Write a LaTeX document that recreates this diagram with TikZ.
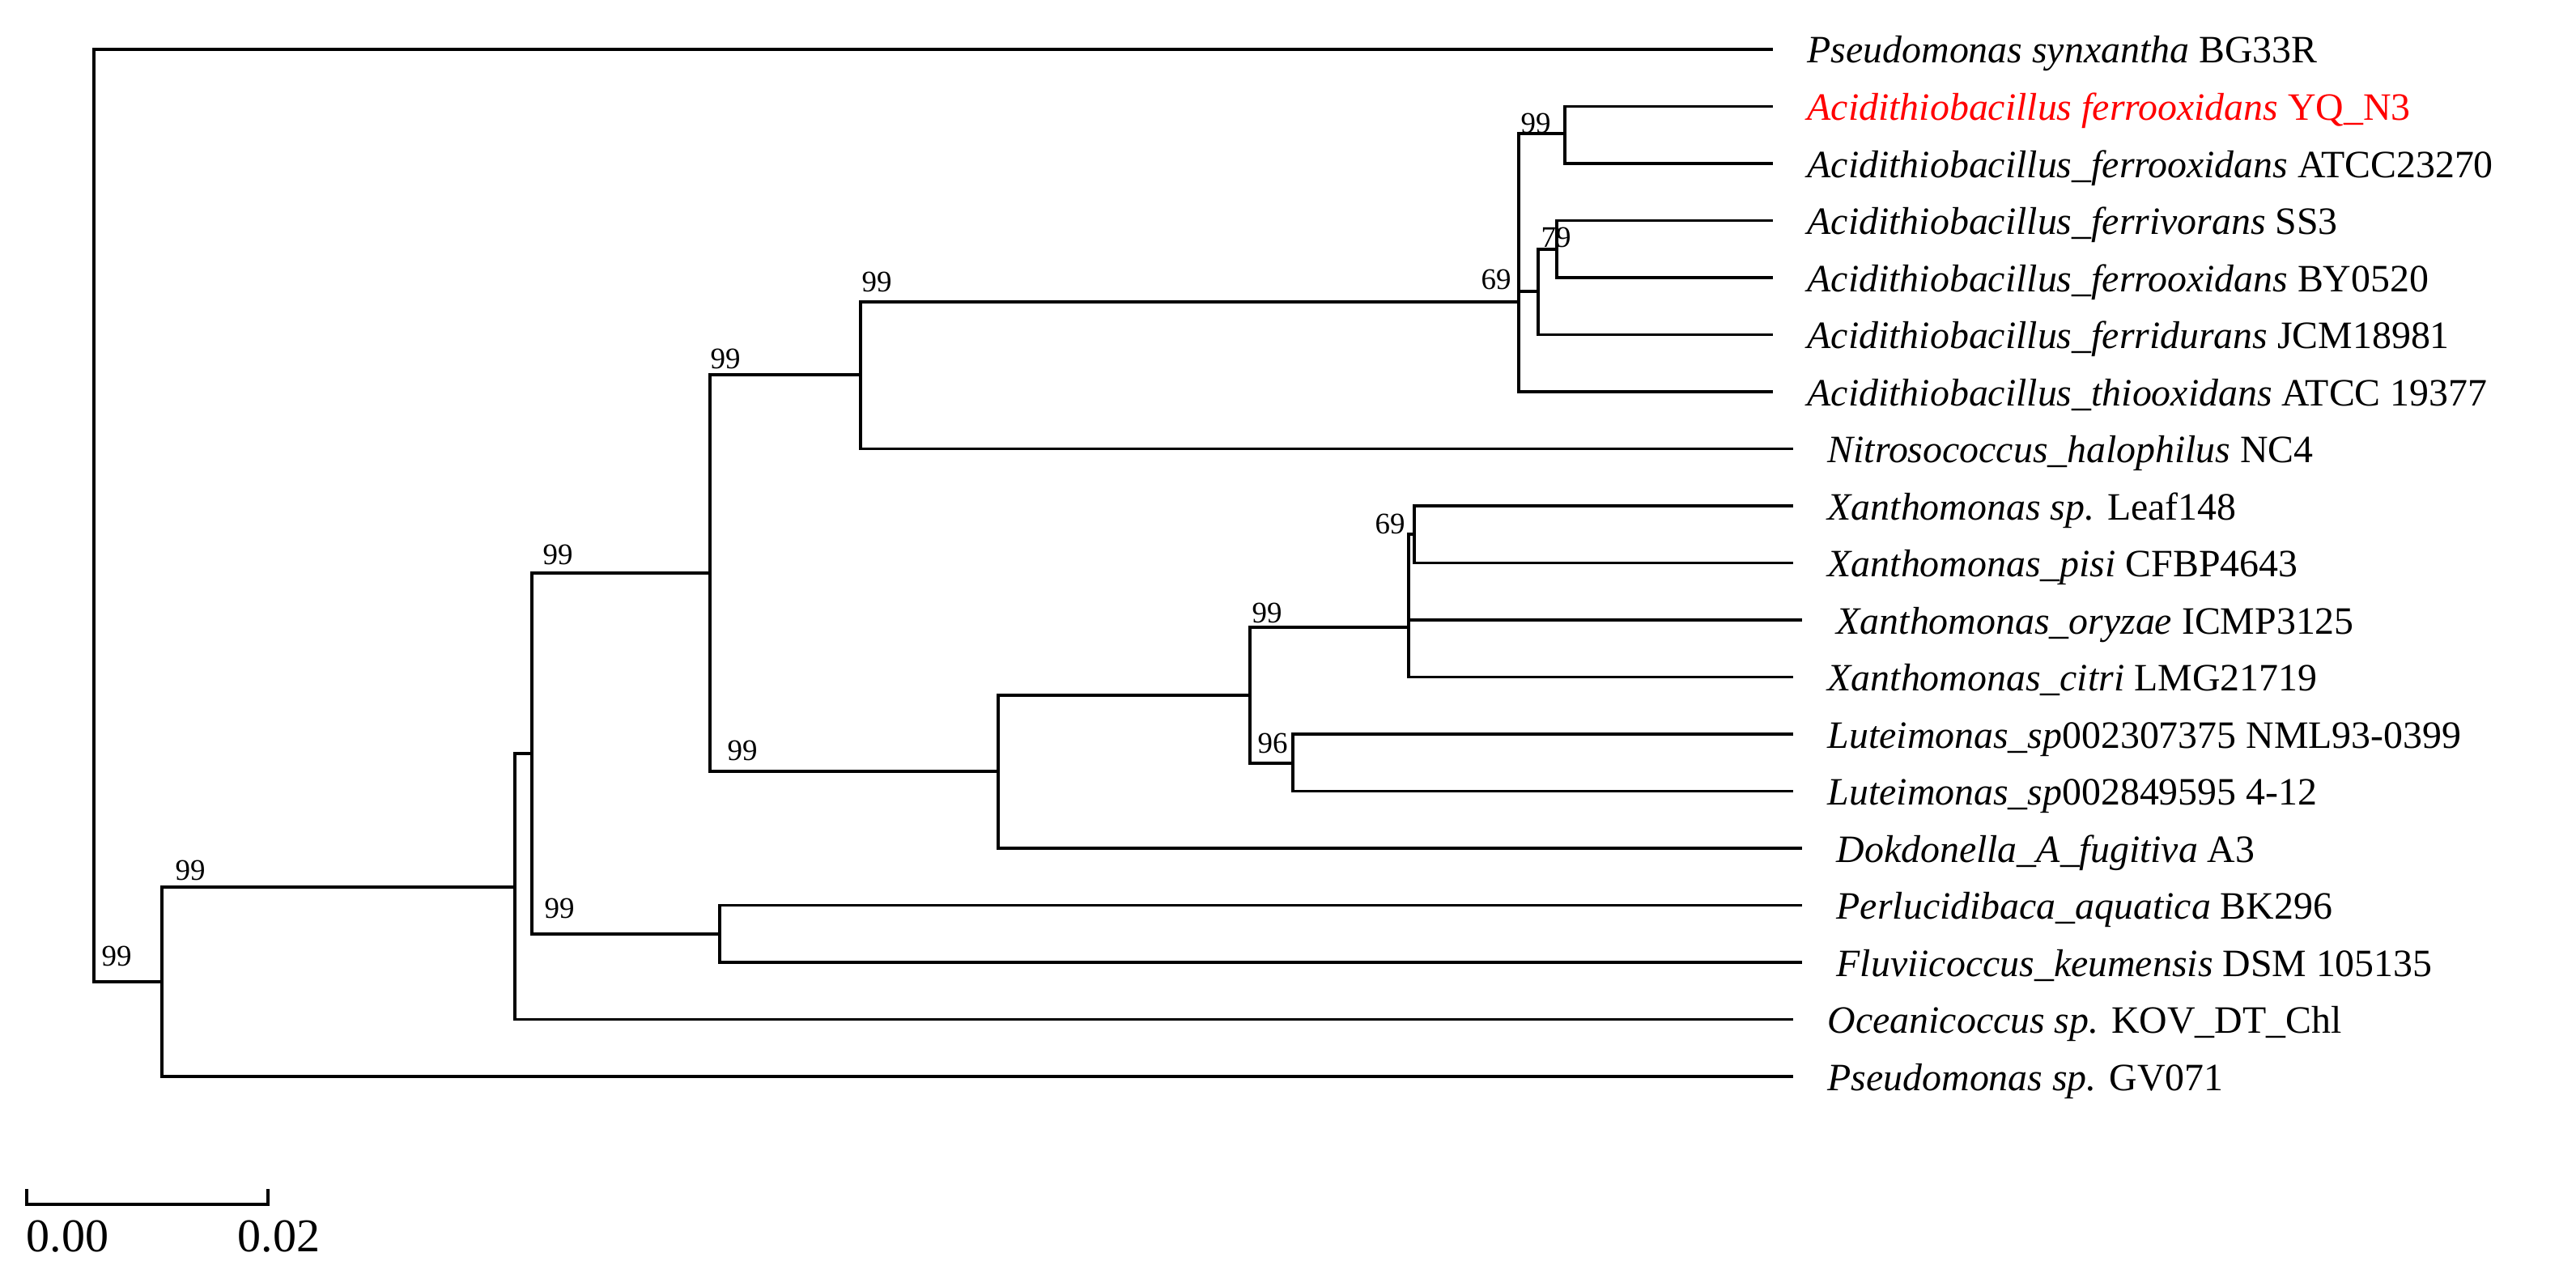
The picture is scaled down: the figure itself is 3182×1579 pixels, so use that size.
\documentclass[tikz,border=0pt]{standalone}
\usepackage{fontspec}
\setmainfont{Liberation Serif}
\usetikzlibrary{positioning}
\definecolor{yq_red}{rgb}{1.00,0.00,0.00}

\begin{document}
\begin{tikzpicture}[x=0.01cm,y=-0.01cm,
    branch/.style={line width=1pt,black},
    taxon/.style={anchor=base west,inner sep=0pt,font=\fontsize{13.6}{16}\selectfont},
    boot/.style={inner sep=0pt,font=\fontsize{10.5}{12}\selectfont},
    scalelabel/.style={anchor=west,inner sep=0pt,font=\fontsize{16.5}{19}\selectfont},
  ]
  \useasboundingbox (0,0) rectangle (3182,1579);
  % leaves: index / tip x / colour / name
  \foreach \i/\tx/\col/\name in {
    1/2190/black/{\textit{Pseudomonas synxantha} BG33R},
    2/2190/yq_red/{\textit{Acidithiobacillus ferrooxidans} YQ\_N3},
    3/2190/black/{\textit{Acidithiobacillus\_ferrooxidans} ATCC23270},
    4/2190/black/{\textit{Acidithiobacillus\_ferrivorans} SS3},
    5/2190/black/{\textit{Acidithiobacillus\_ferrooxidans} BY0520},
    6/2190/black/{\textit{Acidithiobacillus\_ferridurans} JCM18981},
    7/2190/black/{\textit{Acidithiobacillus\_thiooxidans} ATCC 19377},
    8/2215/black/{\textit{Nitrosococcus\_halophilus} NC4},
    9/2215/black/{\textit{Xanthomonas sp.} Leaf148},
    10/2215/black/{\textit{Xanthomonas\_pisi} CFBP4643},
    11/2226/black/{\textit{Xanthomonas\_oryzae} ICMP3125},
    12/2215/black/{\textit{Xanthomonas\_citri} LMG21719},
    13/2215/black/{\textit{Luteimonas\_sp}002307375 NML93-0399},
    14/2215/black/{\textit{Luteimonas\_sp}002849595 4-12},
    15/2226/black/{\textit{Dokdonella\_A\_fugitiva} A3},
    16/2226/black/{\textit{Perlucidibaca\_aquatica} BK296},
    17/2226/black/{\textit{Fluviicoccus\_keumensis} DSM 105135},
    18/2215/black/{\textit{Oceanicoccus sp.} KOV\_DT\_Chl},
    19/2215/black/{\textit{Pseudomonas sp.} GV071}}
  {
    \pgfmathsetmacro\ly{61+70.5*(\i-1)}
    \coordinate (l\i) at (\tx,\ly);
    \node[taxon,text=\col] (t\i) at (\tx+42,\ly+17) {\name};
  }
  % inner nodes of the tree
  \foreach \n/\nx/\ny in {R/116/637, A/200/1213, B/636/1096, C/657/931,
      D/877/708, E/1063/463, Ac/1876/373, YQ/1933/165, Fe/1900/360,
      N79/1923/308, F/1233/953, XL/1544/859, XG/1740/775, X69/1747/660,
      L96/1597/943, G/889/1154}
    \coordinate (\n) at (\nx,\ny);
  % branches
  \foreach \p/\c in {R/l1, R/A, A/B, A/l19, B/C, B/l18, C/D, C/G,
      D/E, D/F, E/Ac, E/l8, Ac/YQ, Ac/Fe, Ac/l7, YQ/l2, YQ/l3,
      Fe/N79, Fe/l6, N79/l4, N79/l5, F/XL, F/l15, XL/XG, XL/L96,
      XG/X69, XG/l11, XG/l12, X69/l9, X69/l10, L96/l13, L96/l14,
      G/l16, G/l17}
    \draw[branch] (\p) |- (\c);
  % bootstrap values
  \foreach \n/\bx/\by/\v in {A/144/1181/99, B/235/1075/99, D/689/685/99,
      G/691/1122/99, E/896/443/99, F/917/927/99, Ac/1083/348/99,
      Fe/1848/345/69, YQ/1897/152/99, N79/1922/293/79, XG/1565/757/99,
      X69/1717/647/69, L96/1572/918/96}
    \node[boot] (b\n) at (\bx,\by) {\v};
  % scale bar
  \coordinate (s0) at (33,1488);
  \coordinate (s1) at (331,1488);
  \draw[branch] (s0) ++(0,-19) |- (s1) -- ++(0,-19);
  \node[scalelabel] (sl0) at (32,1528) {0.00};
  \node[scalelabel] (sl1) at (293,1528) {0.02};
\end{tikzpicture}
\end{document}
